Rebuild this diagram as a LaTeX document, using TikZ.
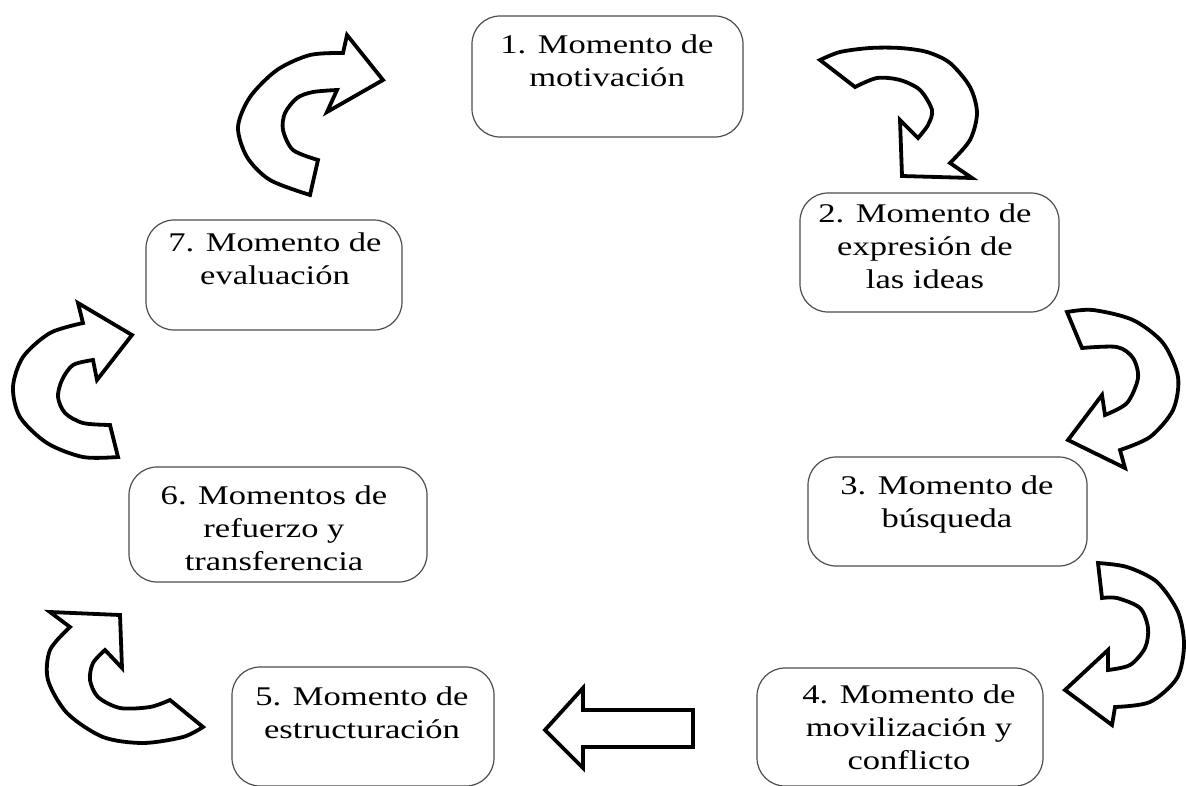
\documentclass[tikz,border=0pt]{standalone}
\usepackage{fontspec}
\setmainfont[FakeStretch=1.28]{Liberation Serif}
\begin{document}
\begin{tikzpicture}[x=1pt,y=-1pt,
  box/.style={draw=black!70, line width=1.2pt, rounded corners=28pt, rectangle, inner sep=0pt},
  lbl/.style={align=center, inner sep=0pt, anchor=north, font=\fontsize{27}{33}\selectfont},
  barrow/.style={draw=black, line width=3.8pt, fill=white, line join=miter}]
\useasboundingbox (0,0) rectangle (1186,785);
% boxes
\node[box, minimum width=271pt, minimum height=121pt] (b1) at (607.5,76.5) {};
\node[box, minimum width=259pt, minimum height=119pt] (b2) at (929.5,252.5) {};
\node[box, minimum width=279pt, minimum height=109pt] (b3) at (947.5,511.5) {};
\node[box, minimum width=286pt, minimum height=118pt] (b4) at (900,727) {};
\node[box, minimum width=262pt, minimum height=119pt] (b5) at (363,726.5) {};
\node[box, minimum width=298pt, minimum height=115pt] (b6) at (278,524.5) {};
\node[box, minimum width=256pt, minimum height=110pt] (b7) at (274,275) {};
% texts
\node[lbl] (t1) at (607,35) {1. Momento de\\motivación};
\node[lbl] (t2) at (925,204) {2. Momento de\\expresión de\\las ideas};
\node[lbl] (t3) at (947,476) {3. Momento de\\búsqueda};
\node[lbl] (t4) at (909,684.5) {4. Momento de\\movilización y\\conflicto};
\node[lbl] (t5) at (362,686.5) {5. Momento de\\estructuración};
\node[lbl] (t6) at (274,485.5) {6. Momentos de\\refuerzo y\\transferencia};
\node[lbl] (t7) at (275,233) {7. Momento de\\evaluación};
% arrow 7 -> 1
\draw[barrow] (310,195) -- (318,160) -- plot[smooth] coordinates {(318,160) (293,150) (283,130) (285,113) (297,98) (313,92) (337,90)} -- (327,112) -- (383,80) -- (347,35) -- (343,53) -- plot[smooth] coordinates {(343,53) (310,55) (277,70) (250,97) (238,127) (247,157) (270,180) (310,195)} -- cycle;
% arrow 1 -> 2
\draw[barrow] (820,60) -- (855,87) -- plot[smooth] coordinates {(855,87) (877,78) (900,80) (920,90) (932,110) (928,125) (918,138)} -- (900,120) -- (902,176) -- (972,178) -- (950,163) -- plot[smooth] coordinates {(950,163) (970,140) (977,113) (970,87) (950,63) (927,52) (900,48) (870,48) (840,52) (820,60)} -- cycle;
% arrow 2 -> 3
\draw[barrow] (1067,312) -- plot[smooth] coordinates {(1067,312) (1093,310) (1133,320) (1163,343) (1178,377) (1173,410) (1150,437) (1120,450)} -- (1125,468) -- (1068,440) -- (1102,395) -- (1105,415) -- plot[smooth] coordinates {(1105,415) (1127,403) (1138,378) (1133,358) (1117,347) (1082,348)} -- cycle;
% arrow 3 -> 4
\draw[barrow] (1098,563) -- plot[smooth] coordinates {(1098,563) (1127,567) (1157,582) (1178,612) (1184,645) (1177,678) (1150,702) (1115,707)} -- (1112,725) -- (1065,690) -- (1108,650) -- (1108,670) -- plot[smooth] coordinates {(1108,670) (1130,665) (1145,648) (1148,628) (1140,608) (1117,598) (1102,598)} -- cycle;
% arrow 4 -> 5
\draw[barrow] (545,730) -- (583,688) -- (583,710) -- (693,710) -- (693,747) -- (583,747) -- (583,768) -- cycle;
% arrow 5 -> 6
\draw[barrow] (203,727) -- plot[smooth] coordinates {(203,727) (183,737) (143,743) (103,737) (67,713) (48,680) (50,650) (70,627)} -- (50,612) -- (120,615) -- (122,668) -- (105,650) -- plot[smooth] coordinates {(105,650) (93,663) (90,680) (98,697) (120,708) (150,707) (170,700)} -- cycle;
% arrow 6 -> 7
\draw[barrow] (118,457) -- plot[smooth] coordinates {(118,457) (83,457) (47,443) (20,417) (13,387) (23,357) (50,333) (83,323)} -- (78,303) -- (132,335) -- (97,380) -- (93,360) -- plot[smooth] coordinates {(93,360) (73,365) (62,380) (58,397) (65,413) (83,423) (110,425)} -- cycle;
\end{tikzpicture}
\end{document}
